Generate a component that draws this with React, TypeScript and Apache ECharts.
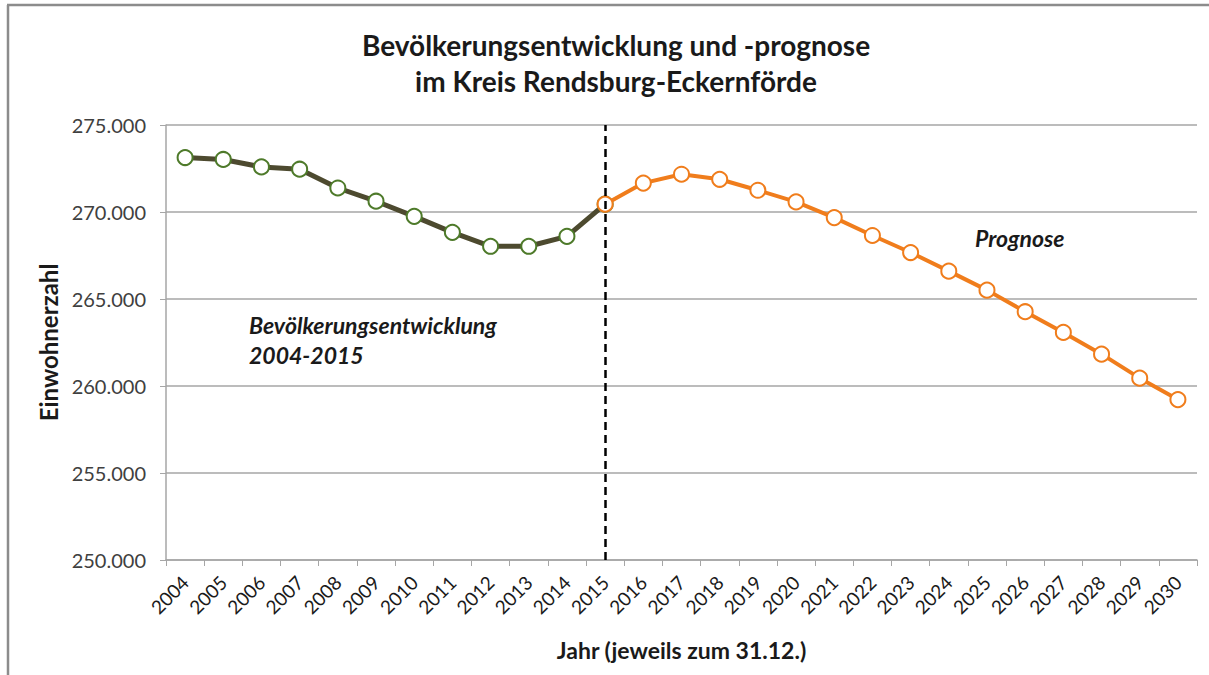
import React, { useEffect, useRef } from "react";
import * as echarts from "echarts";

const years = ["2004","2005","2006","2007","2008","2009","2010","2011","2012","2013","2014","2015","2016","2017","2018","2019","2020","2021","2022","2023","2024","2025","2026","2027","2028","2029","2030"];
const historyValues = [273130, 273020, 272590, 272460, 271380, 270620, 269750, 268830, 268030, 268030, 268600, 270450];
const forecastValues = [270450, 271660, 272170, 271880, 271250, 270580, 269680, 268650, 267670, 266600, 265510, 264270, 263080, 261830, 260450, 259220];
const yTicks = { min: 250000, max: 275000, interval: 5000 };

const FONT = "Lato, 'Open Sans', sans-serif";

export default function App() {
  const ref = useRef<HTMLDivElement>(null);
  useEffect(() => {
    if (!ref.current) return;
    const chart = echarts.init(ref.current, null, { renderer: "svg" });
    const histData = years.map((_, i) => (i < historyValues.length ? historyValues[i] : null));
    const offset = years.length - forecastValues.length;
    const foreData = years.map((_, i) => (i >= offset ? forecastValues[i - offset] : null));
    chart.setOption({
      animation: false,
      backgroundColor: "#ffffff",
      textStyle: { fontFamily: FONT },
      title: {
        text: "Bevölkerungsentwicklung und -prognose\nim Kreis Rendsburg-Eckernförde",
        left: 611,
        textAlign: "center",
        top: 22,
        textStyle: { fontFamily: FONT, fontSize: 28, fontWeight: "bold", color: "#1a1a1a", lineHeight: 36 },
      },
      grid: { left: 166, right: 12, top: 125, bottom: 115, containLabel: false },
      xAxis: {
        type: "category",
        data: years,
        boundaryGap: true,
        name: "Jahr (jeweils zum 31.12.)",
        nameLocation: "middle",
        nameGap: 78,
        nameTextStyle: { fontFamily: FONT, fontSize: 23, fontWeight: "bold", color: "#1a1a1a" },
        axisLine: { lineStyle: { color: "#a6a6a6", width: 1.5 } },
        axisTick: { show: true, alignWithLabel: false, length: 6, lineStyle: { color: "#a6a6a6" } },
        axisLabel: { rotate: 45, fontSize: 19, color: "#1a1a1a", margin: 19, interval: 0, fontFamily: FONT },
      },
      yAxis: {
        type: "value",
        min: yTicks.min,
        max: yTicks.max,
        interval: yTicks.interval,
        name: "Einwohnerzahl",
        nameLocation: "middle",
        nameGap: 92,
        nameTextStyle: { fontFamily: FONT, fontSize: 24, fontWeight: "bold", color: "#1a1a1a" },
        axisLine: { show: true, lineStyle: { color: "#a6a6a6", width: 1.5 } },
        axisTick: { show: true, length: 6, lineStyle: { color: "#a6a6a6" } },
        splitLine: { lineStyle: { color: "#a6a6a6", width: 1.5 } },
        axisLabel: {
          fontSize: 20,
          color: "#404040",
          margin: 20,
          fontFamily: FONT,
          formatter: (v: number) => (v / 1000).toFixed(3),
        },
      },
      series: [
        {
          type: "line",
          data: histData,
          z: 2,
          symbol: "circle",
          symbolSize: 15,
          lineStyle: { color: "#4d4a2f", width: 5 },
          itemStyle: { color: "#ffffff", borderColor: "#4e7a2a", borderWidth: 2 },
          markLine: {
            silent: true,
            symbol: "none",
            label: { show: false },
            lineStyle: { color: "#000000", type: [8, 5], width: 2.5 },
            data: [{ xAxis: "2015" }],
          },
        },
        {
          type: "line",
          data: foreData,
          z: 3,
          symbol: "circle",
          symbolSize: 15,
          lineStyle: { color: "#f07d1c", width: 4 },
          itemStyle: { color: "#ffffff", borderColor: "#f07d1c", borderWidth: 2 },
        },
      ],
      graphic: [
        { type: "line", shape: { x1: 8, y1: 5, x2: 8, y2: 675 }, style: { stroke: "#8c8c8c", lineWidth: 2.5 } },
        { type: "line", shape: { x1: 7, y1: 5, x2: 1209, y2: 5 }, style: { stroke: "#8c8c8c", lineWidth: 2.5 } },
        {
          type: "text",
          left: 975,
          top: 226,
          style: { text: "Prognose", font: `italic bold 23px ${FONT}`, fill: "#1a1a1a" },
        },
        {
          type: "text",
          left: 249,
          top: 310,
          style: {
            text: "Bevölkerungsentwicklung\n2004-2015",
            font: `italic bold 23px ${FONT}`,
            fill: "#1a1a1a",
            lineHeight: 30,
          },
        },
      ],
    });
    return () => chart.dispose();
  }, []);
  return <div ref={ref} style={{ position: "fixed", left: 0, top: 0, width: 1209, height: 675 }} />;
}
